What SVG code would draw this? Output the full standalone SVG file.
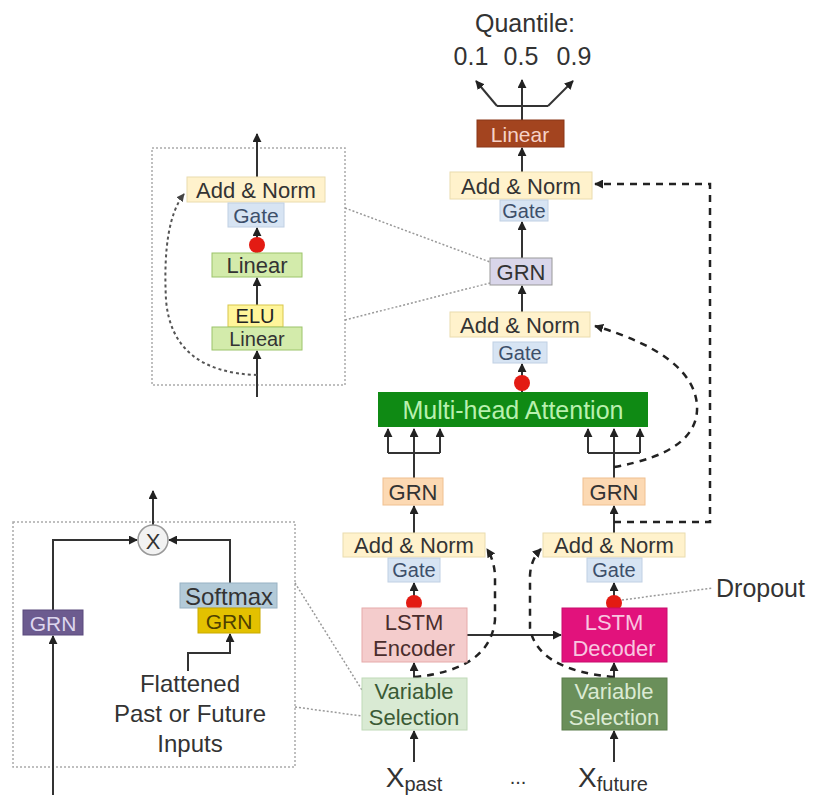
<svg xmlns="http://www.w3.org/2000/svg" width="818" height="795" viewBox="0 0 818 795" fill="#333">
<defs>
<marker id="ah" viewBox="0 0 10 10" refX="9" refY="5" markerWidth="9" markerHeight="9" markerUnits="userSpaceOnUse" orient="auto">
<path d="M0,0 L10,5 L0,10 z" fill="#222"/>
</marker>
<marker id="ahg" viewBox="0 0 10 10" refX="9" refY="5" markerWidth="8" markerHeight="8" markerUnits="userSpaceOnUse" orient="auto">
<path d="M0,0 L10,5 L0,10 z" fill="#444"/>
</marker>
<style>
text{font-family:"Liberation Sans",Arial,sans-serif;text-anchor:middle;dominant-baseline:central}
.ln{fill:none;stroke:#333;stroke-width:2}
.dash{fill:none;stroke:#222;stroke-width:2.5;stroke-dasharray:7 6}
.dot{fill:none;stroke:#999;stroke-width:1.5;stroke-dasharray:2 2}
.dotc{fill:none;stroke:#555;stroke-width:2;stroke-dasharray:3 3}
.box{fill:none;stroke:#aaa;stroke-width:1.5;stroke-dasharray:2 2}
.an{fill:#fff2cc;stroke:#eadcae;stroke-width:1}
.gate{fill:#d7e4f3;stroke:#c0d0e3;stroke-width:1}
.lin{fill:#d3ebab;stroke:#9cc46a;stroke-width:1}
.rd{fill:#e31b13}
</style>
</defs>
<rect width="818" height="795" fill="#fff"/>

<!-- inset boxes -->
<rect class="box" x="152" y="148" width="193" height="237"/>
<rect class="box" x="13" y="522" width="282" height="245"/>

<g id="connectors">
<!-- top output fork -->
<path class="ln" d="M522,120 V80" marker-end="url(#ah)"/>
<path class="ln" d="M497,106 H548"/>
<path class="ln" d="M497,106 L476,81" marker-end="url(#ah)"/>
<path class="ln" d="M548,106 L573,81" marker-end="url(#ah)"/>
<!-- main spine -->
<path class="ln" d="M522,172 V148" marker-end="url(#ah)"/>
<path class="ln" d="M522,258 V222" marker-end="url(#ah)"/>
<path class="ln" d="M522,312 V286" marker-end="url(#ah)"/>
<path class="ln" d="M522,392 V364" marker-end="url(#ah)"/>
<!-- forks into attention -->
<path class="ln" d="M414,478 V453 M388,453 H440"/>
<path class="ln" d="M388,453 V429" marker-end="url(#ah)"/>
<path class="ln" d="M414,453 V429" marker-end="url(#ah)"/>
<path class="ln" d="M440,453 V429" marker-end="url(#ah)"/>
<path class="ln" d="M614,478 V453 M588,453 H640"/>
<path class="ln" d="M588,453 V429" marker-end="url(#ah)"/>
<path class="ln" d="M614,453 V429" marker-end="url(#ah)"/>
<path class="ln" d="M640,453 V429" marker-end="url(#ah)"/>
<!-- lower stacks -->
<path class="ln" d="M414,533 V506" marker-end="url(#ah)"/>
<path class="ln" d="M614,533 V506" marker-end="url(#ah)"/>
<path class="ln" d="M414,608 V583" marker-end="url(#ah)"/>
<path class="ln" d="M614,608 V583" marker-end="url(#ah)"/>
<path class="ln" d="M414,678 V663" marker-end="url(#ah)"/>
<path class="ln" d="M614,678 V663" marker-end="url(#ah)"/>
<path class="ln" d="M414,762 V731" marker-end="url(#ah)"/>
<path class="ln" d="M614,762 V731" marker-end="url(#ah)"/>
<path class="ln" d="M467,635 H561" marker-end="url(#ah)"/>
<!-- skip connections -->
<path class="dash" d="M614,522 H710 V184 H595" marker-end="url(#ah)"/>
<path class="dash" d="M614,467 Q700,452 697,405 Q693,355 595,326" marker-end="url(#ah)"/>
<path class="dash" d="M414,677 Q490,670 495,620 L495,575 Q494,560 487,549" marker-end="url(#ah)"/>
<path class="dash" d="M614,677 Q537,670 530,628 L530,575 Q531,559 541,549" marker-end="url(#ah)"/>
<!-- upper inset -->
<path class="ln" d="M257,177 V134" marker-end="url(#ah)"/>
<path class="ln" d="M257,253 V228" marker-end="url(#ah)"/>
<path class="ln" d="M257,305 V278" marker-end="url(#ah)"/>
<path class="ln" d="M257,397 V351" marker-end="url(#ah)"/>
<path class="dotc" d="M257,375 Q172,372 166,300 Q162,222 184,194" marker-end="url(#ahg)"/>
<!-- lower inset -->
<path class="ln" d="M153,525 V491" marker-end="url(#ah)"/>
<path class="ln" d="M53,795 V636" marker-end="url(#ah)"/>
<path class="ln" d="M53,610 V540 H137" marker-end="url(#ah)"/>
<path class="ln" d="M230,583 V540 H169" marker-end="url(#ah)"/>
<path class="ln" d="M188,671 V653 H230 V634" marker-end="url(#ah)"/>
<!-- leader lines -->
<path class="dot" d="M345,208 L490,262"/>
<path class="dot" d="M345,320 L490,283"/>
<path class="dot" d="M295,583 L362,690"/>
<path class="dot" d="M295,707 L362,716"/>
<path class="dot" d="M622,600 L713,588"/>
</g>

<!-- top outputs -->
<g id="quantile">
<text x="525" y="23" font-size="25">Quantile:</text>
<text x="471" y="56" font-size="25">0.1</text>
<text x="521" y="56" font-size="25">0.5</text>
<text x="574" y="56" font-size="25">0.9</text>
</g>
<g id="linear-out"><rect x="477" y="120" width="87" height="27" fill="#a3441f" stroke="#8a3618"/><text x="520" y="134" font-size="21" fill="#f6d2c8">Linear</text></g>
<g id="addnorm-top"><rect class="an" x="450" y="172" width="142" height="27"/><text x="521" y="186" font-size="22">Add &amp; Norm</text></g>
<g id="gate-top"><rect class="gate" x="500" y="200" width="48" height="21"/><text x="524" y="211" font-size="20" fill="#3d4f6a">Gate</text></g>
<g id="grn-top"><rect x="490" y="258" width="62" height="27" fill="#d9d6ea" stroke="#999"/><text x="521" y="272" font-size="22">GRN</text></g>
<g id="addnorm-att"><rect class="an" x="450" y="312" width="140" height="25"/><text x="520" y="325" font-size="22">Add &amp; Norm</text></g>
<g id="gate-att"><rect class="gate" x="493" y="342" width="54" height="21"/><text x="520" y="353" font-size="20" fill="#3d4f6a">Gate</text></g>
<g id="dropout-att"><circle class="rd" cx="522" cy="383" r="8"/></g>
<g id="mha"><rect x="378" y="392" width="270" height="35" fill="#0f8a14"/><text x="513" y="410" font-size="25" fill="#b8f0ae">Multi-head Attention</text></g>
<g id="grn-past"><rect x="383" y="478" width="60" height="27" fill="#fcd9b3" stroke="#f0c090"/><text x="413" y="492" font-size="22">GRN</text></g>
<g id="grn-future"><rect x="583" y="478" width="62" height="27" fill="#fcd9b3" stroke="#f0c090"/><text x="614" y="492" font-size="22">GRN</text></g>
<g id="addnorm-past"><rect class="an" x="343" y="533" width="142" height="24"/><text x="414" y="545" font-size="22">Add &amp; Norm</text></g>
<g id="addnorm-future"><rect class="an" x="543" y="533" width="142" height="24"/><text x="614" y="545" font-size="22">Add &amp; Norm</text></g>
<g id="gate-past"><rect class="gate" x="388" y="558" width="52" height="24"/><text x="414" y="570" font-size="20" fill="#3d4f6a">Gate</text></g>
<g id="gate-future"><rect class="gate" x="587" y="558" width="55" height="24"/><text x="614" y="570" font-size="20" fill="#3d4f6a">Gate</text></g>
<g id="dropout-past"><circle class="rd" cx="414" cy="603" r="8"/></g>
<g id="dropout-future"><circle class="rd" cx="614" cy="603" r="8"/></g>
<g id="dropout-label"><text x="716" y="588" font-size="25" style="text-anchor:start">Dropout</text></g>
<g id="lstm-enc"><rect x="362" y="608" width="105" height="54" fill="#f4cccc" stroke="#e6aaaa"/><text x="414" y="622" font-size="22" fill="#4a2d2d">LSTM</text><text x="414" y="648" font-size="22" fill="#4a2d2d">Encoder</text></g>
<g id="lstm-dec"><rect x="562" y="608" width="105" height="54" fill="#e2127c" stroke="#c80d6c"/><text x="614" y="622" font-size="22" fill="#f8c6e0">LSTM</text><text x="614" y="648" font-size="22" fill="#f8c6e0">Decoder</text></g>
<g id="vs-past"><rect x="362" y="678" width="105" height="52" fill="#d9ead3" stroke="#c0d9b8"/><text x="414" y="691" font-size="22" fill="#3b5a35">Variable</text><text x="414" y="717" font-size="22" fill="#3b5a35">Selection</text></g>
<g id="vs-future"><rect x="562" y="678" width="105" height="52" fill="#6a8f5a" stroke="#5a7d4b"/><text x="614" y="691" font-size="22" fill="#dbead3">Variable</text><text x="614" y="717" font-size="22" fill="#dbead3">Selection</text></g>
<g id="x-past"><text x="414" y="777" font-size="28"><tspan>X</tspan><tspan font-size="20" dy="7">past</tspan></text></g>
<g id="ellipsis"><text x="518" y="777" font-size="20">...</text></g>
<g id="x-future"><text x="613" y="777" font-size="28"><tspan>X</tspan><tspan font-size="20" dy="7">future</tspan></text></g>

<!-- upper inset: GRN detail -->
<g id="grn-addnorm"><rect class="an" x="187" y="177" width="138" height="25"/><text x="256" y="190" font-size="22">Add &amp; Norm</text></g>
<g id="grn-gate"><rect class="gate" x="228" y="203" width="56" height="24"/><text x="256" y="215" font-size="21" fill="#3d4f6a">Gate</text></g>
<g id="grn-dropout"><circle class="rd" cx="257" cy="245" r="8"/></g>
<g id="grn-linear2"><rect class="lin" x="212" y="253" width="90" height="24"/><text x="257" y="265" font-size="22">Linear</text></g>
<g id="grn-elu"><rect x="228" y="305" width="55" height="22" fill="#fff59a" stroke="#d8c64a"/><text x="255" y="316" font-size="20" fill="#222">ELU</text></g>
<g id="grn-linear1"><rect class="lin" x="212" y="327" width="90" height="23"/><text x="257" y="339" font-size="20">Linear</text></g>

<!-- lower inset: variable selection detail -->
<g id="vs-mult"><circle cx="153" cy="540" r="15" fill="#f2f2f2" stroke="#999" stroke-width="1.5"/><text x="153" y="541" font-size="22">X</text></g>
<g id="vs-grn-left"><rect x="23" y="610" width="60" height="25" fill="#6c5b8f" stroke="#5a4a7c"/><text x="53" y="623" font-size="21" fill="#ddd6ee">GRN</text></g>
<g id="vs-softmax"><rect x="180" y="583" width="97" height="25" fill="#b3cad8" stroke="#98b2c3"/><text x="229" y="596" font-size="24">Softmax</text></g>
<g id="vs-grn-right"><rect x="198" y="608" width="62" height="25" fill="#e3c100" stroke="#c9aa00"/><text x="229" y="621" font-size="21" fill="#4e3f00">GRN</text></g>
<g id="vs-input"><text x="190" y="683" font-size="24">Flattened</text><text x="190" y="713" font-size="24">Past or Future</text><text x="190" y="743" font-size="24">Inputs</text></g>
</svg>
